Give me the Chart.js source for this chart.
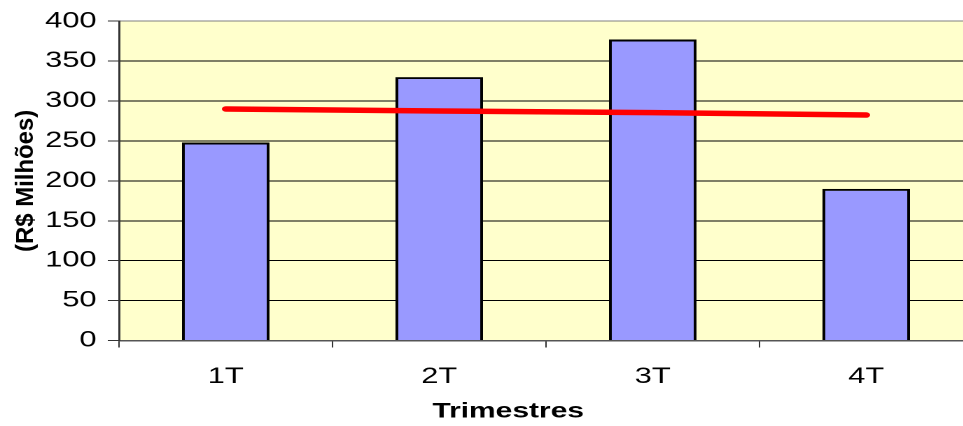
<!DOCTYPE html>
<html lang="pt-BR">
<head>
<meta charset="utf-8">
<title>Trimestres</title>
<script src="https://cdn.jsdelivr.net/npm/chart.js@4/dist/chart.umd.min.js"></script>
<style>
  html, body { margin: 0; padding: 0; background: #ffffff; overflow: hidden; width: 963px; height: 426px; }
  /* the chart is laid out narrow and widened horizontally, like the wide Excel-style lettering */
  #wrap { width: 700px; height: 426px; transform: scaleX(1.4); transform-origin: 0 0; }
</style>
</head>
<body>
<div id="wrap"><canvas id="chart"></canvas></div>
<script>
// Quarterly values (R$ millions)
const categories = ['1T', '2T', '3T', '4T'];
const trimestral = [248, 330, 377, 190];
const media = [290, 287.5, 285.5, 282.5];
const yMin = 0;
const yMax = 400;
const yStep = 50;
const yTitle = '(R$ Milhões)';
const xTitle = 'Trimestres';

const STRETCH = 1.4;
const FONT = "'Liberation Sans', Arial, Helvetica, sans-serif";

// yellow plot background
const plotBackground = {
  id: 'plotBackground',
  beforeDraw(chart) {
    const { ctx, chartArea: a } = chart;
    ctx.save();
    ctx.fillStyle = '#FFFFCC';
    ctx.fillRect(a.left, a.top, a.width, a.height);
    ctx.restore();
  }
};

// axis captions, drawn with normal proportions
const axisCaptions = {
  id: 'axisCaptions',
  afterDraw(chart) {
    const { ctx, chartArea: a } = chart;
    ctx.save();
    ctx.fillStyle = '#000000';
    ctx.font = 'bold 23px ' + FONT;
    ctx.textAlign = 'center';
    ctx.textBaseline = 'middle';
    ctx.translate(26 / STRETCH, (a.top + a.bottom) / 2);
    ctx.scale(1 / STRETCH, 1);
    ctx.rotate(-Math.PI / 2);
    ctx.scale(1.04, 1.08);
    ctx.fillText(yTitle, 0, 0);
    ctx.restore();

    ctx.save();
    ctx.fillStyle = '#000000';
    ctx.font = 'bold 21px ' + FONT;
    ctx.textAlign = 'center';
    ctx.textBaseline = 'middle';
    ctx.translate(a.left + 278, a.bottom + 71);
    ctx.scale(1.02, 1);
    ctx.fillText(xTitle, 0, 0);
    ctx.restore();
  }
};

new Chart(document.getElementById('chart'), {
  data: {
    labels: categories,
    datasets: [
      {
        type: 'line',
        label: 'Média',
        data: media,
        borderColor: '#FF0000',
        borderWidth: 5.5,
        borderCapStyle: 'round',
        borderJoinStyle: 'round',
        pointRadius: 0,
        tension: 0,
        order: 0
      },
      {
        type: 'bar',
        label: 'Trimestral',
        data: trimestral,
        backgroundColor: '#9999FF',
        borderColor: '#000000',
        borderWidth: 2,
        borderSkipped: 'bottom',
        categoryPercentage: 1,
        barPercentage: 0.41,
        order: 1
      }
    ]
  },
  options: {
    responsive: true,
    maintainAspectRatio: false,
    animation: false,
    devicePixelRatio: 2,
    layout: { padding: { left: 0, top: 20.5, right: 5, bottom: 0 } },
    plugins: {
      legend: { display: false },
      tooltip: { enabled: false },
      title: { display: false }
    },
    scales: {
      x: {
        type: 'category',
        offset: true,
        afterFit(scale) { scale.height = 85.5; },
        grid: {
          display: true,
          offset: true,
          drawOnChartArea: false,
          drawTicks: true,
          tickLength: 7,
          color: '#333333'
        },
        border: { display: true, color: '#555555', width: 1.5 },
        ticks: {
          color: '#000000',
          font: { family: FONT, size: 22 },
          padding: 16,
          maxRotation: 0
        }
      },
      y: {
        min: yMin,
        max: yMax,
        afterFit(scale) { scale.width = 85; },
        grid: {
          color: (c) => (c.tick && c.tick.value === yMax ? '#808080' : (c.tick && c.tick.value === yMin ? '#555555' : '#000000')),
          tickColor: '#333333',
          tickLength: 8,
          drawTicks: true
        },
        border: { display: true, color: '#333333', width: 1.5 },
        ticks: {
          stepSize: yStep,
          color: '#000000',
          font: { family: FONT, size: 22 },
          padding: 8
        }
      }
    }
  },
  plugins: [plotBackground, axisCaptions]
});
</script>
</body>
</html>
